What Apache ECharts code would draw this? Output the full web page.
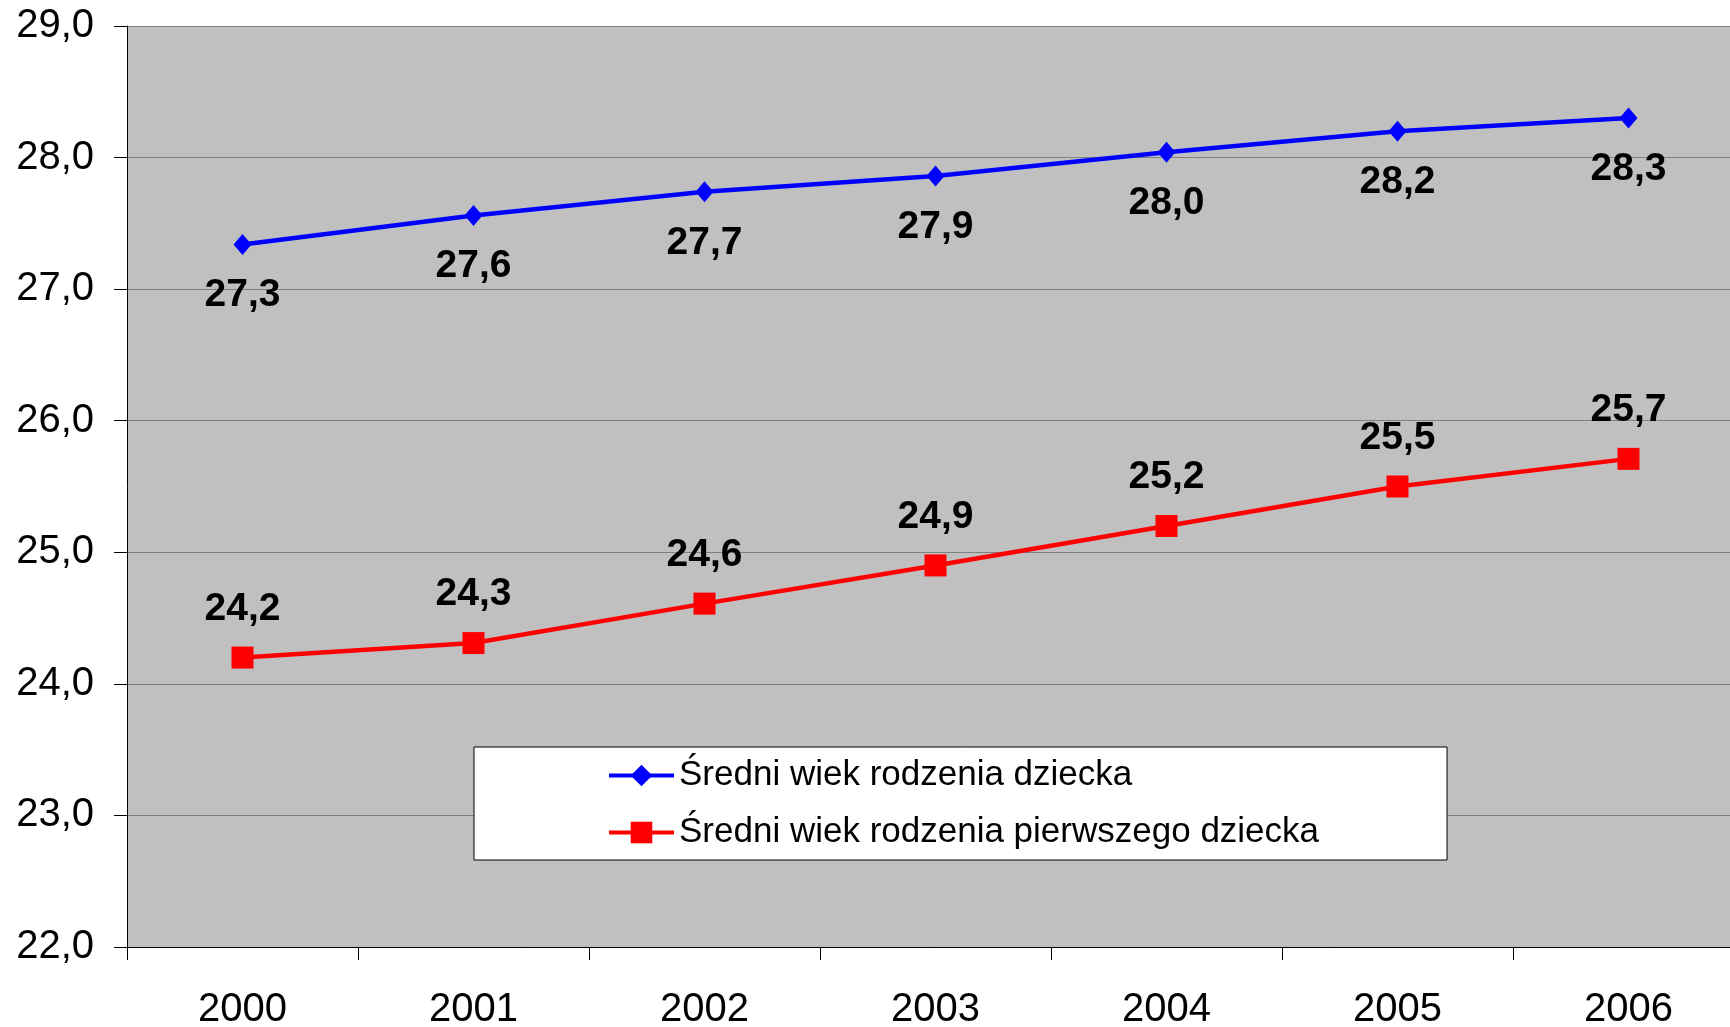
<!DOCTYPE html>
<html>
<head>
<meta charset="utf-8">
<title>Średni wiek rodzenia dziecka</title>
<script src="https://cdn.jsdelivr.net/npm/echarts@6/dist/echarts.min.js"></script>
<style>
    html, body { margin: 0; padding: 0; background: #fff; }
    #chart { width: 1730px; height: 1027px; }
</style>
</head>
<body>
<div id="chart"></div>
<script>
// dane
const years = ["2000", "2001", "2002", "2003", "2004", "2005", "2006"];
const seriesNames = ["Średni wiek rodzenia dziecka", "Średni wiek rodzenia pierwszego dziecka"];
const ageAll = [27.34, 27.56, 27.74, 27.86, 28.04, 28.2, 28.3];
const ageFirst = [24.2, 24.31, 24.61, 24.9, 25.2, 25.5, 25.71];
const yMin = 22, yMax = 29, yStep = 1;

const font = "'Liberation Sans', Arial, sans-serif";
const fmt = v => v.toFixed(1).replace(".", ",");

let chart = echarts.init(document.getElementById("chart"));
let option = {
    animation: false,
    backgroundColor: "#fff",
    textStyle: { fontFamily: font },
    grid: {
        left: 127,
        top: 26,
        width: 1617, // obszar wykresu wychodzi poza prawą krawędź
        bottom: 80,
        outerBoundsMode: "none", // nie ściskaj siatki do rozmiaru kontenera
        show: true,
        backgroundColor: "#C0C0C0",
        borderWidth: 0
    },
    legend: {
        orient: "vertical",
        left: 474,
        top: 747,
        backgroundColor: "#fff",
        borderColor: "#000",
        borderWidth: 1,
        padding: [8, 128, 7, 133],
        itemGap: 16,
        itemWidth: 65,
        itemHeight: 27,
        lineStyle: { width: 4 },
        textStyle: { fontSize: 35, color: "#000", lineHeight: 41, fontFamily: font },
        data: seriesNames
    },
    xAxis: {
        type: "category",
        data: years,
        boundaryGap: true,
        axisLine: { show: true, lineStyle: { color: "#000", width: 1 } },
        axisTick: { show: true, length: 13, inside: false, lineStyle: { color: "#000" } },
        axisLabel: { fontSize: 40, color: "#000", margin: 43, fontFamily: font },
        splitLine: { show: false }
    },
    yAxis: {
        type: "value",
        min: yMin,
        max: yMax,
        interval: yStep,
        axisLine: { show: true, lineStyle: { color: "#000", width: 1 } },
        axisTick: { show: true, length: 13, lineStyle: { color: "#000" } },
        axisLabel: { fontSize: 40, color: "#000", margin: 33, fontFamily: font, formatter: v => fmt(v) },
        splitLine: { show: true, lineStyle: { color: "#808080", width: 1 } }
    },
    series: [
        {
            name: seriesNames[0],
            type: "line",
            data: ageAll,
            symbol: "diamond",
            symbolSize: [18, 21],
            itemStyle: { color: "#0000FF" },
            lineStyle: { color: "#0000FF", width: 4.5 },
            label: {
                show: true,
                position: "bottom",
                distance: 21,
                fontSize: 39,
                fontWeight: "bold",
                color: "#000",
                fontFamily: font,
                formatter: p => fmt(p.value)
            }
        },
        {
            name: seriesNames[1],
            type: "line",
            data: ageFirst,
            symbol: "rect",
            symbolSize: 22,
            itemStyle: { color: "#FF0000" },
            lineStyle: { color: "#FF0000", width: 4.5 },
            label: {
                show: true,
                position: "top",
                distance: 18,
                fontSize: 39,
                fontWeight: "bold",
                color: "#000",
                fontFamily: font,
                formatter: p => fmt(p.value)
            }
        }
    ]
};
chart.setOption(option);
</script>
</body>
</html>
